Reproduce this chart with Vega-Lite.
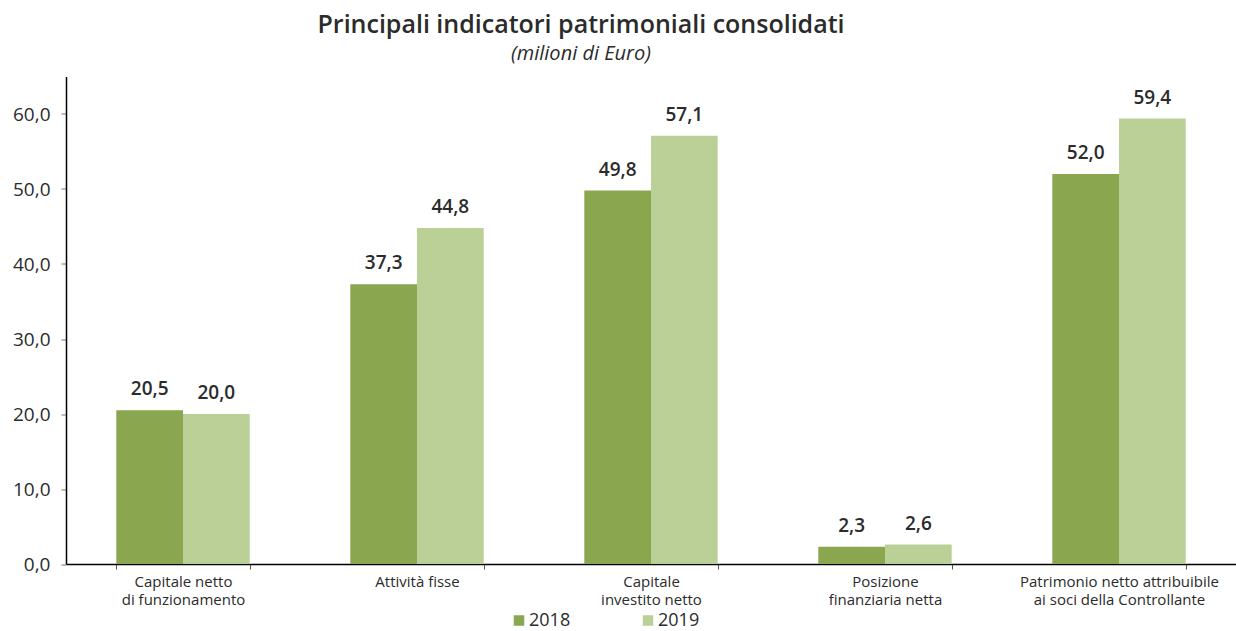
{
  "$schema": "https://vega.github.io/schema/vega-lite/v6.json",
  "width": 1170,
  "height": 487.5,
  "autosize": {"type": "none"},
  "padding": {"left": 66, "top": 76.5, "right": 0, "bottom": 67},
  "background": "white",
  "config": {
    "locale": {"number": {"decimal": ",", "thousands": ".", "grouping": [3], "currency": ["€", ""]}},
    "view": {"stroke": null},
    "font": "Open Sans"
  },
  "title": {
    "text": "Principali indicatori patrimoniali consolidati",
    "subtitle": "(milioni di Euro)",
    "anchor": "middle",
    "dx": -70,
    "offset": 13,
    "fontSize": 25,
    "fontWeight": 600,
    "color": "#2b2b2b",
    "subtitleFontSize": 20,
    "subtitleFontStyle": "italic",
    "subtitleColor": "#2b2b2b",
    "subtitlePadding": 6
  },
  "data": {
    "values": [
      {"cat": "Capitale netto|di funzionamento", "anno": "2018", "v": 20.5},
      {"cat": "Capitale netto|di funzionamento", "anno": "2019", "v": 20.0},
      {"cat": "Attività fisse", "anno": "2018", "v": 37.3},
      {"cat": "Attività fisse", "anno": "2019", "v": 44.8},
      {"cat": "Capitale|investito netto", "anno": "2018", "v": 49.8},
      {"cat": "Capitale|investito netto", "anno": "2019", "v": 57.1},
      {"cat": "Posizione|finanziaria netta", "anno": "2018", "v": 2.3},
      {"cat": "Posizione|finanziaria netta", "anno": "2019", "v": 2.6},
      {"cat": "Patrimonio netto attribuibile|ai soci della Controllante", "anno": "2018", "v": 52.0},
      {"cat": "Patrimonio netto attribuibile|ai soci della Controllante", "anno": "2019", "v": 59.4}
    ]
  },
  "encoding": {
    "x": {
      "field": "cat",
      "type": "nominal",
      "sort": null,
      "scale": {"paddingInner": 0.43, "paddingOuter": 0.215},
      "axis": {
        "title": null,
        "labelAngle": 0,
        "labelExpr": "split(datum.label, '|')",
        "labelFontSize": 15,
        "labelColor": "#2b2b2b",
        "labelLineHeight": 18,
        "labelPadding": 5,
        "labelLimit": 300,
        "tickBand": "extent",
        "tickSize": 5,
        "tickColor": "#555555",
        "domainColor": "#000000",
        "domainWidth": 1.5
      }
    },
    "xOffset": {"field": "anno", "type": "nominal"},
    "y": {
      "field": "v",
      "type": "quantitative",
      "scale": {"domain": [0, 65], "nice": false},
      "axis": {
        "title": null,
        "values": [0, 10, 20, 30, 40, 50, 60],
        "format": ".1f",
        "grid": false,
        "labelFontSize": 19,
        "labelColor": "#2b2b2b",
        "labelPadding": 11,
        "tickSize": 5,
        "tickColor": "#777777",
        "domainColor": "#000000",
        "domainWidth": 1.5
      }
    }
  },
  "layer": [
    {
      "mark": {"type": "bar"},
      "encoding": {
        "color": {
          "field": "anno",
          "type": "nominal",
          "scale": {"domain": ["2018", "2019"], "range": ["#8aa64e", "#bad097"]},
          "legend": {
            "title": null,
            "orient": "none",
            "direction": "horizontal",
            "legendX": 444,
            "legendY": 535,
            "symbolType": "square",
            "symbolSize": 110,
            "symbolStrokeWidth": 0,
            "labelFontSize": 18,
            "labelColor": "#2b2b2b",
            "labelOffset": 1,
            "columnPadding": 68
          }
        }
      }
    },
    {
      "mark": {"type": "text", "dy": -21, "fontSize": 19, "fontWeight": 600, "color": "#2b2b2b"},
      "encoding": {
        "text": {"field": "v", "type": "quantitative", "format": ".1f"}
      }
    }
  ]
}
